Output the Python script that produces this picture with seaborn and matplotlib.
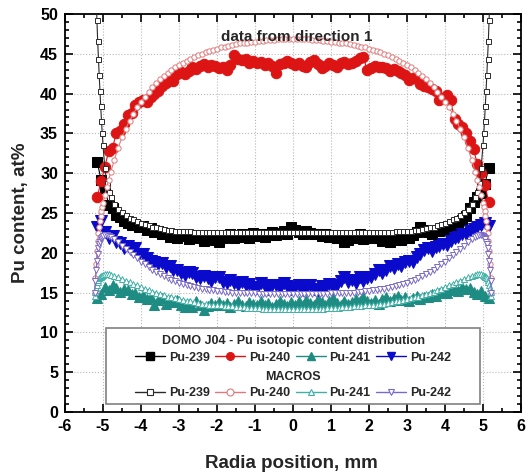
import numpy as np
import matplotlib
matplotlib.use("Agg")
import matplotlib.pyplot as plt
import seaborn as sns
from matplotlib.lines import Line2D
from matplotlib.patches import Rectangle
from matplotlib.ticker import MultipleLocator

# ---------------- data ----------------
x_ticks = [-6, -5, -4, -3, -2, -1, 0, 1, 2, 3, 4, 5, 6]
y_ticks = [0, 5, 10, 15, 20, 25, 30, 35, 40, 45, 50]
series_labels = ["Pu-239", "Pu-240", "Pu-241", "Pu-242"]

# measured (DOMO J04), radial positions
meas_x = np.round(np.arange(-5.15, 5.151, 0.1), 2)

meas_pu239 = [
    31.4, 29.1, 28.2, 26.0, 25.6, 24.8, 24.5, 24.0, 23.8, 23.5,
    23.5, 23.2, 23.4, 22.9, 23.1, 22.6, 22.8, 22.3, 22.5, 22.0,
    22.4, 21.8, 22.1, 22.3, 21.7, 22.0, 22.2, 21.8, 21.5, 21.9,
    22.2, 21.6, 21.4, 21.9, 22.1, 22.3, 21.8, 22.0, 22.4, 22.2,
    21.9, 22.5, 22.1, 22.3, 22.0, 22.4, 22.6, 22.2, 22.5, 22.8,
    22.4, 23.2, 22.9, 22.6, 22.4, 22.7, 22.5, 22.3, 22.4, 22.1,
    22.3, 22.0, 22.2, 21.8, 22.0, 21.4, 21.6, 22.1, 21.9, 22.3,
    21.7, 22.0, 21.8, 22.1, 21.8, 21.5, 22.0, 21.3, 21.7, 22.0,
    21.6, 22.2, 21.9, 22.2, 22.6, 23.2, 22.9, 22.6, 22.4, 22.8,
    22.7, 22.9, 23.0, 23.2, 23.3, 23.2, 24.1, 24.6, 25.6, 26.4,
    27.0, 27.5, 28.7, 30.6]

meas_pu240 = [
    27.0, 29.0, 30.8, 32.8, 33.2, 35.0, 35.3, 36.2, 37.3, 37.6,
    38.6, 38.9, 39.2, 39.0, 39.6, 39.9, 40.3, 40.9, 41.3, 41.8,
    41.6, 42.5, 42.7, 42.5, 42.8, 43.3, 43.1, 43.5, 43.7, 43.4,
    43.6, 43.5, 43.2, 43.4, 43.0, 43.6, 44.8, 44.4, 44.2, 44.3,
    43.9, 44.1, 43.8, 44.0, 43.6, 43.9, 43.5, 42.6, 43.7, 43.9,
    44.1, 43.8, 43.6, 43.9, 43.5, 43.3, 44.0, 44.2, 43.7, 43.2,
    43.5, 43.9, 43.6, 43.4, 43.8, 44.0, 43.7, 43.9, 44.1, 44.5,
    44.6, 43.0, 43.2, 43.5, 43.3, 43.4, 43.2, 42.9, 43.1, 42.8,
    42.6, 42.3, 41.7, 42.0, 41.8, 41.2, 41.0, 40.8, 40.6, 40.3,
    39.2, 39.5, 39.8, 39.2, 36.8, 36.2, 35.8, 35.1, 34.1, 33.0,
    31.2, 30.0, 28.5, 26.4]

meas_pu241 = [
    14.3, 14.8, 15.7, 15.3, 16.0, 15.6, 15.1, 15.4, 15.3, 14.8,
    15.0, 14.4, 14.7, 14.2, 14.5, 13.4, 14.1, 14.3, 13.6, 14.1,
    13.8, 14.1, 13.5, 13.2, 13.6, 13.2, 13.9, 13.5, 12.8, 13.3,
    13.7, 13.4, 13.8, 13.4, 13.7, 13.2, 13.6, 13.9, 13.5, 13.3,
    13.8, 13.6, 13.4, 13.9, 13.5, 13.7, 13.2, 13.6, 14.0, 13.6,
    13.3, 13.8, 13.5, 13.9, 13.4, 14.1, 13.7, 13.5, 14.2, 13.8,
    13.4, 13.9, 14.3, 13.7, 13.5, 14.0, 13.6, 13.8, 14.2, 13.9,
    14.4, 14.0, 13.7, 14.1, 13.6, 14.2, 14.5, 14.0, 14.3, 14.6,
    14.1, 14.4, 14.0, 14.3, 14.6, 14.2, 14.5, 14.4, 14.8, 14.6,
    14.9, 15.1, 14.9, 15.3, 15.5, 15.2, 15.7, 15.4, 15.6, 15.1,
    14.8, 15.2, 14.6, 14.3]

meas_pu242 = [
    23.3, 24.0, 22.6, 21.8, 22.1, 21.4, 21.2, 20.6, 20.8, 20.4,
    20.6, 19.8, 19.9, 19.3, 19.0, 18.8, 18.6, 18.7, 18.2, 18.4,
    17.9, 17.8, 17.5, 17.2, 17.6, 17.4, 17.0, 16.8, 17.1, 16.8,
    16.5, 16.9, 16.9, 16.3, 16.2, 16.6, 16.2, 15.9, 16.3, 15.9,
    16.1, 15.7, 15.6, 16.2, 15.8, 15.5, 16.0, 15.9, 15.6, 16.2,
    15.8, 15.5, 15.7, 15.9, 15.3, 15.6, 16.0, 15.5, 15.3, 15.8,
    15.6, 16.1, 15.7, 16.0, 16.4, 16.9, 16.3, 16.6, 16.2, 16.9,
    16.5, 16.8, 16.9, 17.3, 17.8, 17.5, 17.9, 18.4, 18.1, 18.6,
    18.4, 18.8, 19.0, 18.8, 19.5, 19.8, 20.4, 20.6, 20.2, 20.7,
    20.9, 21.1, 21.0, 21.5, 21.8, 22.0, 22.4, 22.3, 22.8, 23.0,
    23.2, 23.5, 23.7, 23.4]

# MACROS model, radial positions (refined near the pellet rim)
model_x = ([-5.22, -5.20, -5.18, -5.16, -5.14, -5.12, -5.10, -5.08,
            -5.06, -5.04, -5.02, -5.00, -4.95, -4.90, -4.85, -4.80]
           + list(np.round(np.arange(-4.7, 4.701, 0.1), 2))
           + [4.80, 4.85, 4.90, 4.95, 5.00, 5.02, 5.04, 5.06,
              5.08, 5.10, 5.12, 5.14, 5.16, 5.18, 5.20, 5.22])

model_pu239 = [
    60.0, 56.0, 52.5, 49.2, 46.6, 44.4, 42.3, 40.3, 38.4, 36.6, 35.0, 33.5, 30.6, 28.8, 27.7, 27.0,
    26.1, 25.5, 25.1, 24.7, 24.4, 24.2, 24.0, 23.8, 23.6, 23.5,
    23.3, 23.2, 23.1, 23.0, 22.9, 22.9, 22.8, 22.8, 22.7, 22.7,
    22.7, 22.6, 22.6, 22.6, 22.6, 22.6, 22.6, 22.6, 22.6, 22.6,
    22.6, 22.6, 22.6, 22.6, 22.6, 22.6, 22.6, 22.6, 22.6, 22.6,
    22.6, 22.6, 22.6, 22.6, 22.6, 22.6, 22.6,
    22.6,
    22.6, 22.6, 22.6, 22.6, 22.6, 22.6, 22.6,
    22.6, 22.6, 22.6, 22.6, 22.6, 22.6, 22.6, 22.6, 22.6, 22.6,
    22.6, 22.6, 22.6, 22.6, 22.6, 22.6, 22.6, 22.6, 22.6, 22.7,
    22.7, 22.7, 22.8, 22.8, 22.9, 22.9, 23.0, 23.1, 23.2, 23.3,
    23.5, 23.6, 23.8, 24.0, 24.2, 24.4, 24.7, 25.1, 25.5, 26.1,
    27.0, 27.7, 28.8, 30.6, 33.5, 35.0, 36.6, 38.4, 40.3, 42.3, 44.4, 46.6, 49.2, 52.5, 56.0, 60.0]

model_pu240 = [
    15.0, 16.8, 18.6, 20.2, 21.5, 22.5, 23.3, 24.0, 24.6, 25.2, 25.7, 26.2, 27.3, 28.3, 29.2, 30.1,
    31.7, 33.2, 34.5, 35.6, 36.6, 37.5, 38.3, 39.0, 39.6, 40.2,
    40.8, 41.3, 41.8, 42.2, 42.6, 43.0, 43.3, 43.6, 43.9, 44.1,
    44.4, 44.6, 44.8, 45.0, 45.2, 45.3, 45.5, 45.6, 45.8, 45.9,
    46.0, 46.1, 46.2, 46.3, 46.4, 46.4, 46.5, 46.5, 46.6, 46.6,
    46.7, 46.7, 46.7, 46.8, 46.8, 46.8, 46.8,
    46.8,
    46.8, 46.8, 46.8, 46.8, 46.7, 46.7, 46.7,
    46.6, 46.6, 46.5, 46.5, 46.4, 46.4, 46.3, 46.2, 46.1, 46.0,
    45.9, 45.8, 45.6, 45.5, 45.3, 45.2, 45.0, 44.8, 44.6, 44.4,
    44.1, 43.9, 43.6, 43.3, 43.0, 42.6, 42.2, 41.8, 41.3, 40.8,
    40.2, 39.6, 39.0, 38.3, 37.5, 36.6, 35.6, 34.5, 33.2, 31.7,
    30.1, 29.2, 28.3, 27.3, 26.2, 25.7, 25.2, 24.6, 24.0, 23.3, 22.5, 21.5, 20.2, 18.6, 16.8, 15.0]

model_pu241 = [
    14.6, 15.1, 15.6, 16.0, 16.3, 16.6, 16.8, 16.9, 17.0, 17.1, 17.1, 17.2, 17.3, 17.3, 17.3, 17.2,
    17.1, 16.9, 16.7, 16.5, 16.3, 16.1, 15.9, 15.7, 15.5, 15.3,
    15.1, 15.0, 14.8, 14.7, 14.5, 14.4, 14.3, 14.2, 14.1, 14.0,
    13.9, 13.8, 13.7, 13.6, 13.6, 13.5, 13.5, 13.4, 13.4, 13.3,
    13.3, 13.3, 13.2, 13.2, 13.2, 13.1, 13.1, 13.1, 13.1, 13.0,
    13.0, 13.0, 13.0, 13.0, 13.0, 13.0, 13.0,
    13.0,
    13.0, 13.0, 13.0, 13.0, 13.0, 13.0, 13.0,
    13.0, 13.1, 13.1, 13.1, 13.1, 13.2, 13.2, 13.2, 13.3, 13.3,
    13.3, 13.4, 13.4, 13.5, 13.5, 13.6, 13.6, 13.7, 13.8, 13.9,
    14.0, 14.1, 14.2, 14.3, 14.4, 14.5, 14.7, 14.8, 15.0, 15.1,
    15.3, 15.5, 15.7, 15.9, 16.1, 16.3, 16.5, 16.7, 16.9, 17.1,
    17.2, 17.3, 17.3, 17.3, 17.2, 17.1, 17.1, 17.0, 16.9, 16.8, 16.6, 16.3, 16.0, 15.6, 15.1, 14.6]

model_pu242 = [
    15.0, 16.4, 17.8, 19.0, 19.9, 20.6, 21.1, 21.4, 21.7, 21.9, 22.0, 22.1, 22.2, 22.2, 22.1, 22.0,
    21.7, 21.3, 20.9, 20.5, 20.1, 19.7, 19.3, 18.9, 18.6, 18.2,
    17.9, 17.6, 17.3, 17.1, 16.8, 16.6, 16.4, 16.2, 16.1, 15.9,
    15.8, 15.7, 15.6, 15.5, 15.4, 15.3, 15.3, 15.2, 15.2, 15.1,
    15.1, 15.0, 15.0, 15.0, 14.9, 14.9, 14.9, 14.9, 14.8, 14.8,
    14.8, 14.8, 14.8, 14.8, 14.8, 14.8, 14.8,
    14.8,
    14.8, 14.8, 14.8, 14.8, 14.8, 14.8, 14.8,
    14.8, 14.8, 14.9, 14.9, 14.9, 14.9, 15.0, 15.0, 15.0, 15.1,
    15.1, 15.2, 15.2, 15.3, 15.3, 15.4, 15.5, 15.6, 15.7, 15.8,
    15.9, 16.1, 16.2, 16.4, 16.6, 16.8, 17.1, 17.3, 17.6, 17.9,
    18.2, 18.6, 18.9, 19.3, 19.7, 20.1, 20.5, 20.9, 21.3, 21.7,
    22.0, 22.1, 22.2, 22.2, 22.1, 22.0, 21.9, 21.7, 21.4, 21.1, 20.6, 19.9, 19.0, 17.8, 16.4, 15.0]

# ---------------- style ----------------
sns.set_style("ticks")
plt.rcParams['font.family'] = ['Liberation Sans', 'DejaVu Sans']
plt.rcParams['font.weight'] = 'bold'
plt.rcParams['axes.unicode_minus'] = False

fig = plt.figure(figsize=(5.28, 4.74), dpi=100)
ax = fig.add_axes([65 / 528, 1 - 412 / 474, 456 / 528, 398 / 474])

meas_series = [meas_pu239, meas_pu240, meas_pu241, meas_pu242]
model_series = [model_pu239, model_pu240, model_pu241, model_pu242]

meas_colors = ["#000000", "#DD1414", "#1E8C82", "#0A0ACC"]
meas_markers = ["s", "o", "^", "v"]
meas_ms = [6.5, 7.5, 7.5, 8.0]

model_colors = ["#2A2A2A", "#E07A7A", "#3FB0A6", "#7A6AC8"]
model_markers = ["s", "o", "^", "v"]
model_ms = [3.6, 3.8, 4.0, 4.0]

for vals, c, m, ms in zip(meas_series, meas_colors, meas_markers, meas_ms):
    sns.lineplot(x=meas_x, y=vals, ax=ax, color=c, marker=m, markersize=ms,
                 mec=c, mfc=c, linewidth=0.8, estimator=None, sort=False,
                 legend=False, zorder=3)

for vals, c, m, ms in zip(model_series, model_colors, model_markers, model_ms):
    sns.lineplot(x=model_x, y=vals, ax=ax, color=c, marker=m, markersize=ms,
                 mec=c, mfc="white", markeredgewidth=0.7, linewidth=0.8,
                 estimator=None, sort=False, legend=False, zorder=4)

ax.set_xlim(-6, 6)
ax.set_ylim(0, 50)
ax.set_xticks(x_ticks)
ax.set_yticks(y_ticks)
ax.xaxis.set_minor_locator(MultipleLocator(0.5))
ax.yaxis.set_minor_locator(MultipleLocator(1))
ax.tick_params(which='both', direction='in', top=True, right=True,
               width=1.2, colors='black')
ax.tick_params(which='major', length=6, labelsize=11.5, pad=5)
ax.tick_params(which='minor', length=3)
for lab in ax.get_xticklabels() + ax.get_yticklabels():
    lab.set_fontweight('bold')
for sp in ax.spines.values():
    sp.set_linewidth(1.3)
    sp.set_color('black')
ax.grid(True, which='major', linestyle=':', color='#B8B8B8', linewidth=0.8)
ax.set_axisbelow(True)

ax.set_xlabel("Radia position, mm", fontsize=13.5, fontweight='bold')
ax.set_ylabel("Pu content, at%", fontsize=13.5, fontweight='bold')
ax.xaxis.set_label_coords(0.496, -0.108)
ax.yaxis.set_label_coords(-0.078, 0.5)

ax.text(0.507, 0.942, "data from direction 1", transform=ax.transAxes,
        ha='center', va='center', fontsize=11, fontweight='bold', zorder=6)

# legend box
ax.add_patch(Rectangle((0.09, 0.02), 0.82, 0.191, transform=ax.transAxes,
                       facecolor='white', edgecolor='#808080', linewidth=1.2,
                       zorder=5))
ax.text(0.5, 0.178, "DOMO J04 - Pu isotopic content distribution",
        transform=ax.transAxes, ha='center', va='center', fontsize=9,
        fontweight='bold', zorder=6)
ax.text(0.5, 0.088, "MACROS", transform=ax.transAxes, ha='center',
        va='center', fontsize=9, fontweight='bold', zorder=6)

h_meas = [Line2D([], [], color=c, marker=m, mfc=c, mec=c, markersize=5.5,
                 linewidth=1.0) for c, m in zip(meas_colors, meas_markers)]
h_model = [Line2D([], [], color=c, marker=m, mfc='white', mec=c, markersize=5,
                  markeredgewidth=0.8, linewidth=1.0)
           for c, m in zip(model_colors, model_markers)]

leg_kw = dict(loc='center', ncol=4, frameon=False, handlelength=2.4,
              handletextpad=0.3, columnspacing=0.45, borderpad=0,
              borderaxespad=0, prop={'size': 9, 'weight': 'bold'})
leg1 = ax.legend(h_meas, series_labels, bbox_to_anchor=(0.5, 0.136), **leg_kw)
leg1.set_zorder(6)
ax.add_artist(leg1)
leg2 = ax.legend(h_model, series_labels, bbox_to_anchor=(0.5, 0.048), **leg_kw)
leg2.set_zorder(6)

fig.savefig("out.png", dpi=100)
